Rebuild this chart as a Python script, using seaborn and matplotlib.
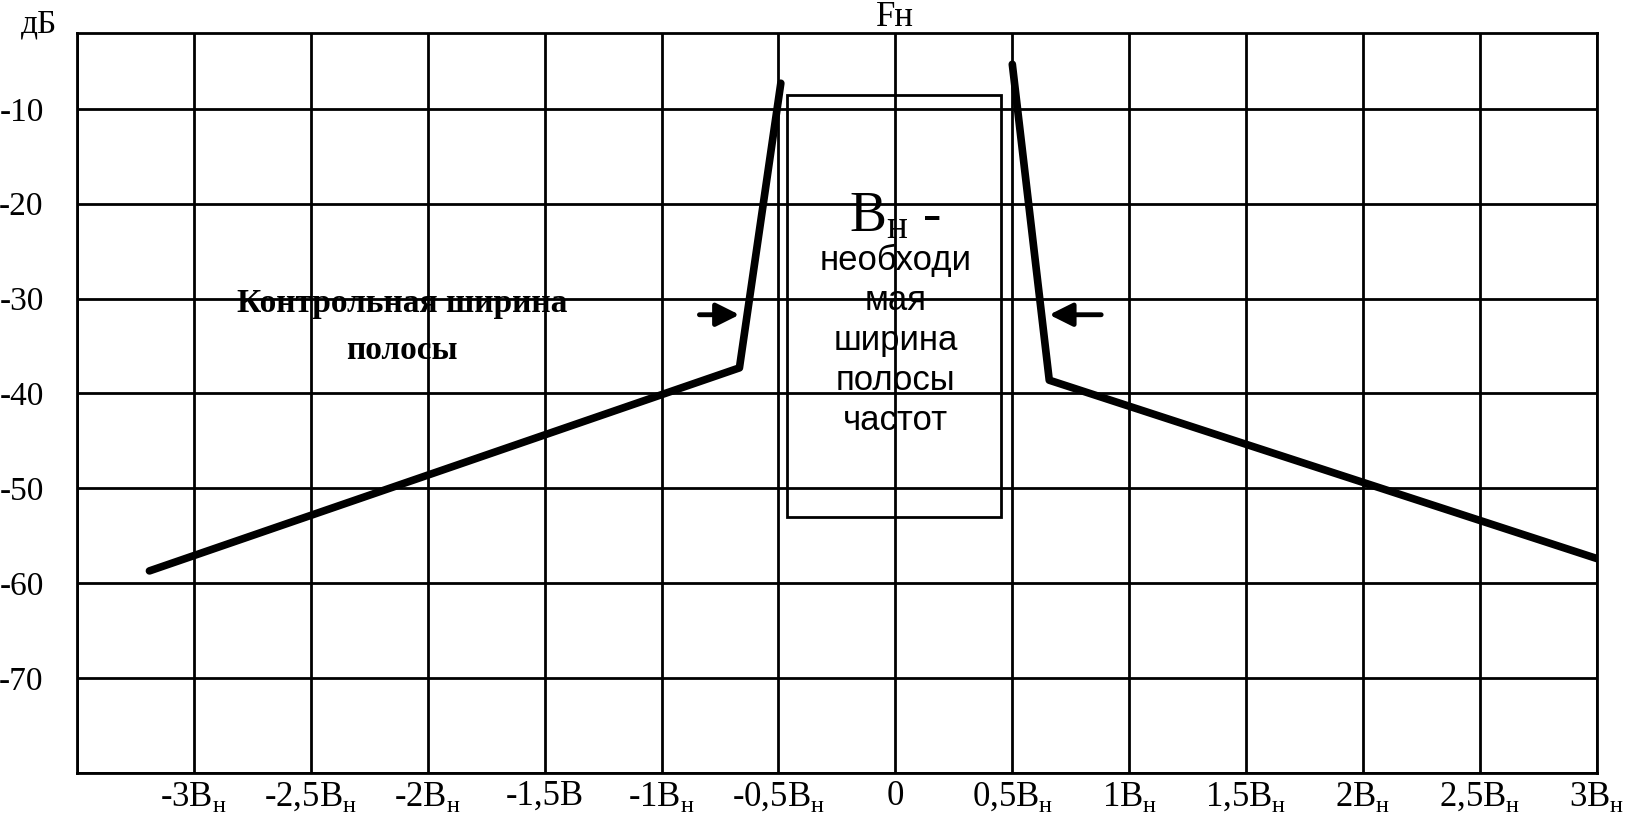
import numpy as np
import pandas as pd
import matplotlib
matplotlib.use("Agg")
import matplotlib.pyplot as plt
import seaborn as sns

# Данные: огибающая спектра (в единицах Bн и дБ), две ветви
freq = [-3.19, -0.667, -0.49, 0.50, 0.658, 3.0]
level = [-58.7, -37.3, -7.3, -5.3, -38.6, -57.4]
side = ["left", "left", "left", "right", "right", "right"]

x_ticks = [-3.5, -3.0, -2.5, -2.0, -1.5, -1.0, -0.5, 0.0, 0.5, 1.0, 1.5, 2.0, 2.5, 3.0]
x_labels = ["", "-3B$_\\mathregular{н}$", "-2,5B$_\\mathregular{н}$", "-2B$_\\mathregular{н}$",
            "-1,5B", "-1B$_\\mathregular{н}$", "-0,5B$_\\mathregular{н}$", "0",
            "0,5B$_\\mathregular{н}$", "1B$_\\mathregular{н}$", "1,5B$_\\mathregular{н}$",
            "2B$_\\mathregular{н}$", "2,5B$_\\mathregular{н}$", "3B$_\\mathregular{н}$"]
y_ticks = [-80, -70, -60, -50, -40, -30, -20, -10]
y_labels = ["", "-70", "-60", "-50", "-40", "-30", "-20", "-10"]

# необходимая ширина полосы (прямоугольник) и стрелки контрольной ширины
box_x = [-0.462, 0.453]
box_y = [-53.0, -8.5]
arrow_left = [-0.838, -0.667]
arrow_right = [0.880, 0.658]
arrow_y = -31.7

df = pd.DataFrame({"f": freq, "db": level, "side": side})

sns.set_style("white")
plt.rcParams["font.family"] = ["Liberation Serif", "DejaVu Serif"]
plt.rcParams["mathtext.fontset"] = "custom"
plt.rcParams["mathtext.rm"] = "Liberation Serif"
plt.rcParams["text.color"] = "black"
plt.rcParams["xtick.color"] = "black"
plt.rcParams["ytick.color"] = "black"

fig = plt.figure(figsize=(16.34, 8.14), dpi=100)
ax = fig.add_axes([0.0471, 0.0504, 0.9302, 0.9091])

sns.lineplot(data=df, x="f", y="db", units="side", estimator=None, sort=False,
             color="black", linewidth=5.5, ax=ax, zorder=5)

ax.set_xlim(-3.5, 3.0)
ax.set_ylim(-80, -2)
ax.set_xticks(x_ticks)
ax.set_xticklabels(x_labels, fontsize=25)
ax.set_yticks(y_ticks)
ax.set_yticklabels(y_labels, fontsize=24)
ax.tick_params(axis="x", length=0, pad=5)
ax.tick_params(axis="y", length=0, pad=24)
ax.grid(True, color="black", linewidth=2)
ax.set_axisbelow(True)
for s in ax.spines.values():
    s.set_color("black")
    s.set_linewidth(2)
ax.set_xlabel("")
ax.set_ylabel("")

ax.add_patch(plt.Rectangle((box_x[0], box_y[0]), box_x[1] - box_x[0], box_y[1] - box_y[0],
                           fill=False, edgecolor="black", linewidth=2, zorder=4))

for xs in (arrow_left, arrow_right):
    ax.annotate("", xy=(xs[1], arrow_y), xytext=(xs[0], arrow_y),
                arrowprops=dict(arrowstyle="-|>,head_length=1.4,head_width=0.7",
                                color="black", linewidth=3.5, shrinkA=0, shrinkB=0))

ax.text(-2.11, -33.0, "Контрольная ширина\nполосы", fontsize=24, fontweight="bold",
        ha="center", va="center", linespacing=1.65)

ax.text(0.0, -21.4, "$\\mathregular{B_н}$ -", fontsize=40, ha="center", va="center")
ax.text(0.0, -34.4, "необходи\nмая\nширина\nполосы\nчастот", fontsize=25,
        family=["Liberation Sans", "DejaVu Sans"], ha="center", va="center", linespacing=1.27)

ax.annotate("Fн", xy=(0.0, 1 - 17 / 814), xycoords=("data", "figure fraction"),
            ha="center", va="center", fontsize=25)
ax.annotate("дБ", xy=(0.0, 1.0), xycoords="axes fraction", xytext=(-27, 6),
            textcoords="offset points", ha="center", va="center", fontsize=24)

fig.savefig("out.png", dpi=100)
